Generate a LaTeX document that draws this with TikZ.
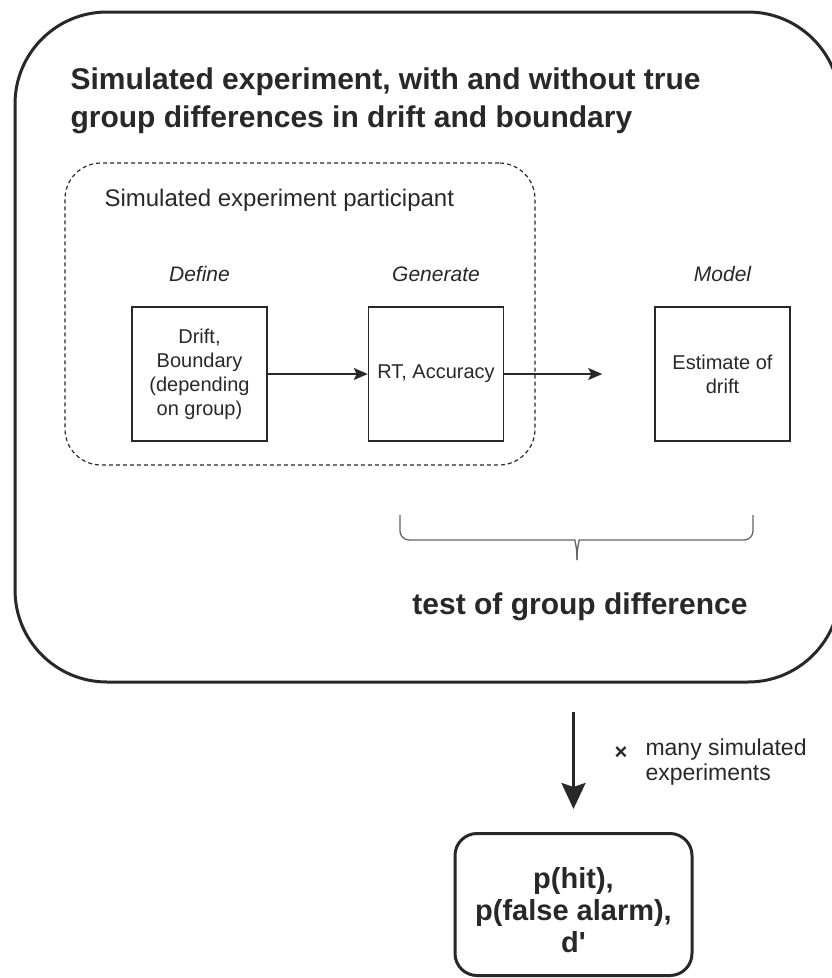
\documentclass[tikz,border=0pt]{standalone}
\usepackage{fontspec}
\setmainfont{Liberation Sans}
\usetikzlibrary{arrows.meta, positioning, calc, decorations.pathreplacing}
\definecolor{ink}{RGB}{40,40,40}
\definecolor{bracegray}{RGB}{100,100,100}
\newcommand{\fsz}[2]{\fontsize{#1}{#2}\selectfont}

\begin{document}
\begin{tikzpicture}[x=1pt, y=-1pt,
  every node/.style={text=ink},
  stagebox/.style={draw=ink, line width=1.5pt, minimum width=135pt, minimum height=134pt,
    inner sep=0pt, align=center, font=\fsz{20}{24}},
  stagelabel/.style={font=\fsz{21}{25}\itshape},
  thinarrow/.style={draw=ink, line width=1.4pt, -{Stealth[length=14pt, width=12pt, inset=3pt]}},
  boldtext/.style={font=\fsz{30}{38}\bfseries},
  bracestroke/.style={draw=bracegray, line width=1.3pt, rounded corners=9pt}]
  \useasboundingbox (0,0) rectangle (832,978);
  \clip (0,0) rectangle (832,978);

  % experiment frame
  \node[draw=ink, line width=3pt, rounded corners=92pt, minimum width=825pt,
    minimum height=670pt, inner sep=0pt] (outer) at (427.5,347) {};
  \node[boldtext, align=left, anchor=west] (title) at (67,101)
    {Simulated experiment, with and without true\\group differences in drift and boundary};

  % participant
  \node[draw=ink, line width=1.2pt, dash pattern=on 4pt off 3pt, rounded corners=36pt,
    minimum width=470pt, minimum height=302pt, inner sep=0pt] (part) at (300,314) {};
  \node[font=\fsz{24}{29}, anchor=west] (partlabel) at (101,200) {Simulated experiment participant};

  % stages
  \node[stagebox] (def) at (199.5,374) {Drift,\\Boundary\\(depending\\on group)};
  \node[stagebox, right=100pt of def] (gen) {RT, Accuracy};
  \node[stagebox, right=150pt of gen] (mod) {Estimate of\\drift};
  \foreach \n/\lbl in {def/Define, gen/Generate, mod/Model}
    \node[stagelabel] (\n-head) at ([yshift=32pt]\n.north) {\lbl};

  \coordinate (modin) at ([xshift=-52pt]mod.west);
  \draw[thinarrow] (def) -- (gen);
  \draw[thinarrow] (gen) -- (modin);

  % brace
  \coordinate (bl) at (400,515);
  \coordinate (br) at (753,515);
  \coordinate (tip) at (577,560);
  \draw[bracestroke] (bl) |- (566,540) .. controls (574,540) and (577,544) .. (tip);
  \draw[bracestroke] (br) |- (588,540) .. controls (580,540) and (577,544) .. (tip);
  \node[boldtext] (test) at (580,607) {test of group difference};

  % repeat
  \node[draw=ink, line width=3pt, rounded corners=22pt, minimum width=237pt,
    minimum height=142pt, inner sep=0pt] (res) at (573.5,904.5) {};
  \node[font=\fsz{29}{32}\bfseries, align=center] (restext) at ([yshift=-6pt]res.center)
    {p(hit),\\p(false alarm),\\d\textquotesingle};
  \draw[ink, line width=3pt, -{Stealth[length=26pt, width=24pt, inset=4pt]}]
    ([yshift=-28pt]outer.south -| res.north) -- ([yshift=23pt]res.north);
  \node[font=\fsz{22}{24}\bfseries] (times) at (621,753) {×};
  \node[font=\fsz{23}{25}, align=left, anchor=west] (many) at (642,762) {many simulated\\experiments};
\end{tikzpicture}
\end{document}
